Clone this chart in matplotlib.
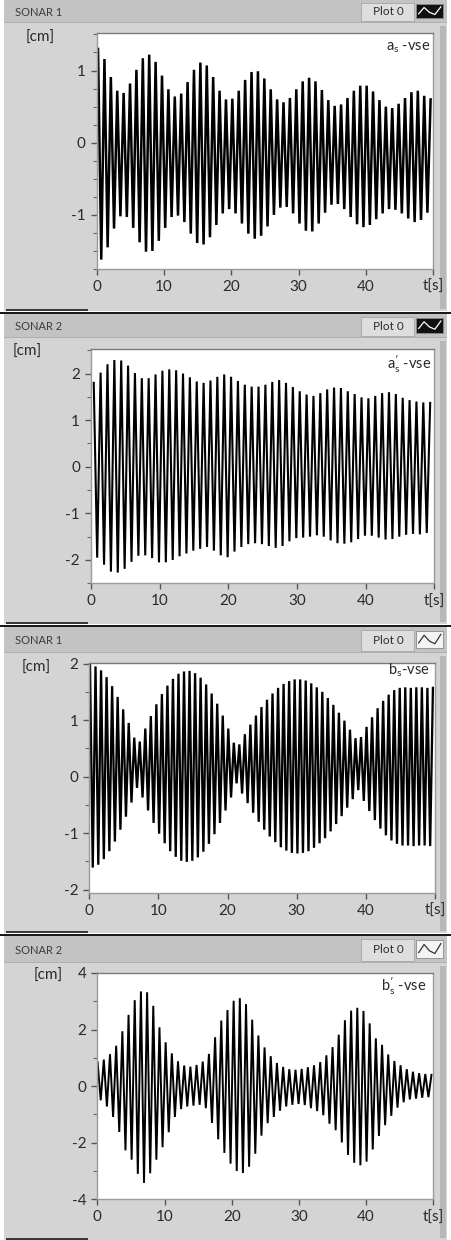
import numpy as np
import matplotlib
matplotlib.use("Agg")
import matplotlib.pyplot as plt
from matplotlib.patches import Rectangle
from matplotlib.lines import Line2D
from matplotlib.ticker import MultipleLocator

plt.rcParams['font.family'] = ['Lato', 'DejaVu Sans']
plt.rcParams['mathtext.fontset'] = 'custom'
plt.rcParams['mathtext.rm'] = 'Lato'
plt.rcParams['mathtext.it'] = 'Lato'

# ---------------- data: successive extremes of each sonar trace [cm] ----------------
# a_s  (SONAR 1)
AS_FIRST, AS_PERIOD = 0.20, 0.95          # time of first crest [s], oscillation period [s]
AS_PEAKS = [1.30, 1.16, 0.91, 0.72, 0.69, 0.82, 1.01, 1.17, 1.22, 1.12, 0.93, 0.74, 0.64,
            0.68, 0.84, 1.01, 1.11, 1.07, 0.91, 0.72, 0.60, 0.61, 0.72, 0.87, 0.98, 0.99,
            0.89, 0.74, 0.60, 0.56, 0.62, 0.74, 0.85, 0.90, 0.85, 0.73, 0.59, 0.51, 0.53,
            0.62, 0.72, 0.79, 0.79, 0.71, 0.59, 0.50, 0.48, 0.54, 0.62, 0.70, 0.72, 0.65, 0.60]
AS_TROUGHS = [-1.62, -1.45, -1.19, -1.02, -1.03, -1.18, -1.38, -1.51, -1.50, -1.36, -1.18,
              -1.03, -1.01, -1.10, -1.26, -1.39, -1.41, -1.31, -1.14, -0.98, -0.92, -0.98,
              -1.12, -1.26, -1.33, -1.29, -1.16, -1.00, -0.90, -0.89, -0.98, -1.12, -1.22,
              -1.23, -1.12, -0.97, -0.86, -0.85, -0.92, -1.03, -1.13, -1.17, -1.14, -1.06,
              -0.98, -0.92, -0.93, -0.98, -1.05, -1.10, -1.07, -0.97]

# a'_s (SONAR 2)
AS2_FIRST, AS2_PERIOD = 0.40, 1.00
AS2_PEAKS = [1.80, 2.02, 2.20, 2.29, 2.28, 2.17, 2.01, 1.90, 1.90, 1.98,
             2.06, 2.09, 2.07, 2.00, 1.92, 1.83, 1.80, 1.85, 1.93, 1.98,
             1.93, 1.84, 1.76, 1.72, 1.72, 1.76, 1.82, 1.86, 1.80, 1.71,
             1.62, 1.55, 1.52, 1.58, 1.66, 1.70, 1.69, 1.62, 1.56, 1.49,
             1.47, 1.52, 1.58, 1.60, 1.56, 1.48, 1.43, 1.40, 1.38, 1.37]
AS2_TROUGHS = [-1.95, -2.10, -2.25, -2.27, -2.19, -2.04, -1.91, -1.90, -1.96, -2.05,
               -2.05, -2.00, -1.92, -1.86, -1.80, -1.76, -1.72, -1.80, -1.90, -1.94,
               -1.82, -1.72, -1.66, -1.64, -1.66, -1.70, -1.74, -1.70, -1.60, -1.53,
               -1.52, -1.50, -1.47, -1.50, -1.58, -1.64, -1.65, -1.62, -1.55, -1.48,
               -1.48, -1.52, -1.56, -1.55, -1.50, -1.46, -1.44, -1.45, -1.42]

# b_s  (SONAR 1)
BS_FIRST, BS_PERIOD = 0.10, 0.80
BS_PEAKS = [1.98, 1.95, 1.88, 1.76, 1.60, 1.41, 1.19, 0.95, 0.69, 0.62, 0.85, 1.07, 1.28,
            1.46, 1.61, 1.73, 1.82, 1.86, 1.87, 1.83, 1.75, 1.63, 1.47, 1.29, 1.08, 0.85,
            0.60, 0.57, 0.75, 0.92, 1.08, 1.23, 1.36, 1.47, 1.57, 1.64, 1.69, 1.72, 1.72,
            1.70, 1.65, 1.58, 1.50, 1.39, 1.27, 1.13, 0.99, 0.83, 0.68, 0.70, 0.88, 1.05,
            1.21, 1.34, 1.45, 1.53, 1.57, 1.58, 1.57, 1.58, 1.58, 1.57, 1.57]
BS_TROUGHS = [-1.61, -1.56, -1.46, -1.32, -1.15, -0.94, -0.71, -0.46, -0.20, -0.37, -0.60,
              -0.82, -1.01, -1.18, -1.32, -1.42, -1.49, -1.51, -1.49, -1.43, -1.33, -1.19,
              -1.02, -0.82, -0.60, -0.37, -0.12, -0.30, -0.47, -0.64, -0.80, -0.94, -1.06,
              -1.16, -1.25, -1.31, -1.35, -1.36, -1.35, -1.32, -1.26, -1.18, -1.09, -0.97,
              -0.84, -0.70, -0.55, -0.40, -0.24, -0.43, -0.61, -0.77, -0.92, -1.04, -1.13,
              -1.19, -1.22, -1.22, -1.23, -1.22, -1.22, -1.23]

# b'_s (SONAR 2)
BS2_FIRST, BS2_PERIOD = 0.05, 0.92
BS2_PEAKS = [0.84, 0.94, 1.13, 1.43, 1.94, 2.52, 3.04, 3.35, 3.32, 2.84,
             2.08, 1.55, 1.16, 0.88, 0.73, 0.69, 0.75, 0.87, 1.14, 1.73,
             2.32, 2.69, 3.02, 3.11, 2.90, 2.35, 1.79, 1.37, 1.06, 0.82,
             0.68, 0.60, 0.58, 0.61, 0.67, 0.74, 0.85, 1.09, 1.38, 1.82,
             2.33, 2.67, 2.77, 2.66, 2.22, 1.69, 1.46, 1.12, 0.89, 0.74,
             0.60, 0.51, 0.46, 0.43, 0.40]
BS2_TROUGHS = [-0.50, -0.72, -1.09, -1.62, -2.27, -2.60, -3.10, -3.42, -3.08, -2.60,
               -2.16, -1.63, -1.09, -0.81, -0.72, -0.69, -0.66, -0.78, -1.30, -1.88,
               -2.36, -2.74, -3.00, -3.07, -2.85, -2.39, -1.75, -1.31, -1.09, -0.87,
               -0.72, -0.66, -0.63, -0.67, -0.78, -0.88, -1.03, -1.33, -1.56, -1.99,
               -2.43, -2.71, -2.80, -2.67, -2.24, -1.76, -1.38, -1.05, -0.76, -0.57,
               -0.47, -0.44, -0.41, -0.39]

X_TICKS = [0, 10, 20, 30, 40, 50]
X_TICK_LABELS = ['0', '10', '20', '30', '40', 't[s]']


def trace(first, period, peaks, troughs):
    """Interleave crests and troughs into one time series."""
    vals = []
    for i, p in enumerate(peaks):
        vals.append(p)
        if i < len(troughs):
            vals.append(troughs[i])
    t = first + 0.5 * period * np.arange(len(vals))
    return t, np.array(vals)


# ---------------- figure and panel chrome ----------------
W, H = 451, 1240
fig = plt.figure(figsize=(W / 100, H / 100), dpi=100)
fig.patch.set_facecolor('white')

PANEL_BG = '#d4d4d4'
HEADER_BG = '#c3c3c3'
TEXT = '#2a2a2a'


def rect(x0, y0, x1, y1, color, ec='none', lw=0, z=-5):
    fig.add_artist(Rectangle((x0 / W, 1 - y1 / H), (x1 - x0) / W, (y1 - y0) / H,
                             transform=fig.transFigure, facecolor=color,
                             edgecolor=ec, linewidth=lw, zorder=z))


def ftext(x, y, s, **kw):
    fig.text(x / W, 1 - y / H, s, **kw)


def icon(x0, y0, x1, y1, dark):
    rect(x0, y0, x1, y1, '#111111' if dark else '#f4f4f4', ec='#8a8a8a', lw=0.6, z=-3)
    xs = np.array([0.10, 0.30, 0.50, 0.70, 0.92])
    ys = np.array([0.30, 0.75, 0.40, 0.25, 0.80])
    gx = (x0 + xs * (x1 - x0)) / W
    gy = 1 - (y1 - ys * (y1 - y0)) / H
    fig.add_artist(Line2D(gx, gy, transform=fig.transFigure,
                          color='white' if dark else '#333333', lw=0.9, zorder=-2))


panels = [
    dict(top=0, bottom=311, hb=23, title='SONAR 1', dark=True,
         box=(96.7, 33.0, 433.3, 269.0), ylim=(-1.75, 1.52), major=[-1, 0, 1], minor=0.25,
         cm=(40, 38), lab=(430, 48), label=r'$\mathrm{a_{s}}$ -vse',
         data=(AS_FIRST, AS_PERIOD, AS_PEAKS, AS_TROUGHS), lw=1.8),
    dict(top=314, bottom=624, hb=338, title='SONAR 2', dark=True,
         box=(91.0, 349.3, 434.3, 583.3), ylim=(-2.5, 2.52), major=[-2, -1, 0, 1, 2], minor=0.5,
         cm=(27, 352), lab=(431, 364), label=r"$\mathrm{a^{\prime}_{s}}$ -vse",
         data=(AS2_FIRST, AS2_PERIOD, AS2_PEAKS, AS2_TROUGHS), lw=1.5),
    dict(top=627, bottom=933, hb=653, title='SONAR 1', dark=False,
         box=(89.3, 663.0, 435.0, 893.0), ylim=(-2.06, 2.01), major=[-2, -1, 0, 1, 2], minor=0.5,
         cm=(36, 668), lab=(430, 670), label=r'$\mathrm{b_{s}}$-vse',
         data=(BS_FIRST, BS_PERIOD, BS_PEAKS, BS_TROUGHS), lw=1.65),
    dict(top=936, bottom=1240, hb=963, title='SONAR 2', dark=False,
         box=(97.3, 973.0, 433.3, 1199.3), ylim=(-4.0, 4.0), major=[-4, -2, 0, 2, 4], minor=1.0,
         cm=(48, 976), lab=(426, 986), label=r"$\mathrm{b^{\prime}_{s}}$ -vse",
         data=(BS2_FIRST, BS2_PERIOD, BS2_PEAKS, BS2_TROUGHS), lw=1.4),
]

for p in panels:
    top, bot = p['top'], p['bottom']
    hb_end = p['hb']
    # panel body, header strip, separators
    rect(4, top, 447, bot, PANEL_BG)
    rect(4, top, 447, hb_end, HEADER_BG)
    rect(4, hb_end - 1, 447, hb_end, '#b0b0b0', z=-4)
    rect(440, hb_end + 3, 446, bot - 2, '#b8b8b8', z=-4)
    if top > 0:
        rect(0, top - 2, W, top, '#1a1a1a', z=-4)
    rect(6, bot - 2, 88, bot, '#3a3a3a', z=-4)

    # header texts and legend chip
    ftext(15, top + (hb_end - top) / 2 + 1, p['title'], ha='left', va='center',
          fontsize=8, color='#3c3c3c')
    rect(361, top + 3, 414, hb_end - 2, '#dedede', ec='#a5a5a5', lw=0.6, z=-4)
    ftext(388, top + (hb_end - top) / 2, 'Plot 0', ha='center', va='center',
          fontsize=8.5, color='#2e2e2e')
    icon(416, top + 4, 443, hb_end - 5, p['dark'])

    # plot area
    x0, y0, x1, y1 = p['box']
    ax = fig.add_axes([x0 / W, 1 - y1 / H, (x1 - x0) / W, (y1 - y0) / H])
    ax.set_facecolor('white')
    t, v = trace(*p['data'])
    ax.plot(t, v, color='black', lw=p['lw'], solid_joinstyle='miter')
    ax.set_xlim(0, 50)
    ax.set_ylim(*p['ylim'])
    ax.set_xticks(X_TICKS)
    ax.set_xticklabels(X_TICK_LABELS)
    ax.set_yticks(p['major'])
    ax.set_yticklabels([str(m) for m in p['major']])
    ax.yaxis.set_minor_locator(MultipleLocator(p['minor']))
    ax.tick_params(axis='both', which='major', direction='out', length=4, width=1.0,
                   color='#555555', labelsize=11, labelcolor=TEXT, pad=4)
    ax.tick_params(axis='y', which='minor', direction='out', length=3, width=0.8,
                   color='#666666')
    for name, sp in ax.spines.items():
        sp.set_color('#9a9a9a')
        sp.set_linewidth(1.0)
    ax.spines['top'].set_color('#7a7a7a')

    ftext(p['cm'][0], p['cm'][1], '[cm]', ha='center', va='center', fontsize=11, color=TEXT)
    ftext(p['lab'][0], p['lab'][1], p['label'], ha='right', va='center', fontsize=10.5,
          color=TEXT)

fig.savefig('out.png', dpi=100, facecolor='white')
